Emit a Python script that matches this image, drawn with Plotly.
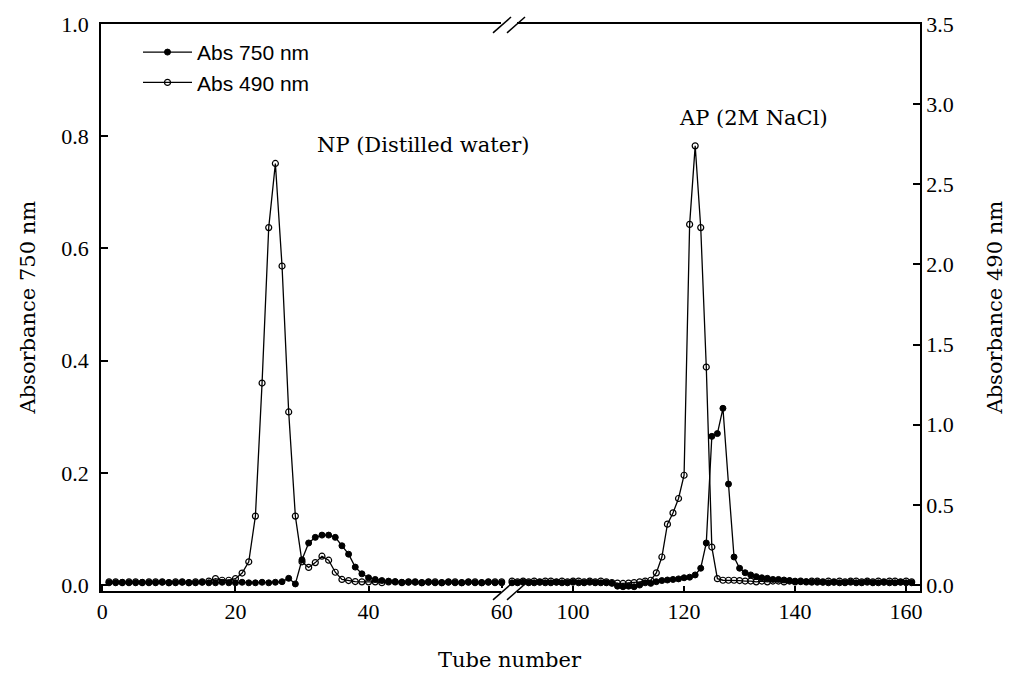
import plotly.graph_objects as go

# ---------------- data ----------------
tubes_left = list(range(1, 61))
abs750_left = [0.004, 0.004, 0.005, 0.004, 0.004, 0.005, 0.004, 0.004, 0.005, 0.004,
               0.004, 0.005, 0.004, 0.004, 0.005, 0.004, 0.004, 0.005, 0.004, 0.004,
               0.005, 0.004, 0.004, 0.005, 0.004, 0.005, 0.006, 0.012, 0.002, 0.045,
               0.075, 0.085, 0.089, 0.089, 0.085, 0.070, 0.055, 0.032, 0.020, 0.013,
               0.010, 0.008, 0.007, 0.006, 0.005, 0.005, 0.005, 0.004, 0.005, 0.004,
               0.004, 0.005, 0.004, 0.004, 0.005, 0.004, 0.004, 0.005, 0.004, 0.004]
abs490_left = [0.020, 0.020, 0.015, 0.020, 0.020, 0.015, 0.020, 0.020, 0.020, 0.015,
               0.020, 0.020, 0.015, 0.020, 0.020, 0.025, 0.040, 0.030, 0.030, 0.040,
               0.075, 0.145, 0.430, 1.260, 2.230, 2.630, 1.990, 1.080, 0.430, 0.145,
               0.110, 0.140, 0.180, 0.155, 0.080, 0.035, 0.028, 0.022, 0.020, 0.020,
               0.020, 0.015, 0.020, 0.020, 0.015, 0.020, 0.020, 0.015, 0.020, 0.020,
               0.015, 0.020, 0.020, 0.015, 0.020, 0.020, 0.015, 0.020, 0.020, 0.020]

tubes_right = list(range(89, 162))
abs750_right = [0.004, 0.004, 0.005, 0.004, 0.004, 0.005, 0.004, 0.004, 0.005, 0.004,   # 89-98
                0.004, 0.005, 0.004, 0.004, 0.005, 0.004, 0.004, 0.004, 0.003, -0.002,   # 99-108
                -0.003, -0.002, -0.003, 0.000, 0.004, 0.003, 0.006, 0.008, 0.009, 0.010, # 109-118
                0.011, 0.013, 0.014, 0.018, 0.030, 0.075, 0.265, 0.270, 0.315, 0.180,    # 119-128
                0.050, 0.030, 0.022, 0.018, 0.015, 0.013, 0.012, 0.010, 0.010, 0.009,    # 129-138
                0.008, 0.007, 0.006, 0.006, 0.005, 0.005, 0.005, 0.004, 0.005, 0.004,    # 139-148
                0.004, 0.005, 0.004, 0.004, 0.005, 0.004, 0.004, 0.005, 0.004, 0.004,    # 149-158
                0.005, 0.004, 0.004]                                                     # 159-161
abs490_right = [0.025, 0.020, 0.025, 0.020, 0.025, 0.020, 0.025, 0.025, 0.020, 0.025,   # 89-98
                0.020, 0.025, 0.025, 0.020, 0.025, 0.020, 0.025, 0.020, 0.015, 0.012,   # 99-108
                0.010, 0.012, 0.015, 0.020, 0.025, 0.030, 0.076, 0.175, 0.380, 0.450,   # 109-118
                0.540, 0.685, 2.250, 2.740, 2.230, 1.360, 0.237, 0.040, 0.030, 0.030,   # 119-128
                0.030, 0.028, 0.025, 0.025, 0.020, 0.025, 0.020, 0.025, 0.025, 0.020,   # 129-138
                0.025, 0.020, 0.025, 0.020, 0.025, 0.025, 0.020, 0.025, 0.020, 0.025,   # 139-148
                0.020, 0.025, 0.025, 0.020, 0.025, 0.020, 0.025, 0.020, 0.025, 0.025,   # 149-158
                0.020, 0.025, 0.020]                                                    # 159-161

x_ticks_left = [0, 20, 40, 60]
x_ticks_right = [100, 120, 140, 160]
y_left_ticks = [0.0, 0.2, 0.4, 0.6, 0.8, 1.0]
y_right_ticks = [0.0, 0.5, 1.0, 1.5, 2.0, 2.5, 3.0, 3.5]

# ---------------- geometry helpers (paper coordinates) ----------------
W, H = 1012, 675
L, R, T, B = 101, 920, 19, 591
def px(x):
    return (x - L) / (R - L)
def py(y):
    return (B - y) / (B - T)
BREAK = px(507)

SERIF = "DejaVu Serif"
TICKFONT = dict(family="Liberation Serif", size=22, color="black")

filled = dict(symbol="circle", size=6, color="black", line=dict(color="black", width=1))
opened = dict(symbol="circle-open", size=6, color="black", line=dict(color="black", width=1.2))
line = dict(color="black", width=1.3)

fig = go.Figure()
fig.add_trace(go.Scatter(x=tubes_left, y=abs750_left, xaxis="x", yaxis="y", mode="lines+markers",
                         name="Abs 750 nm", line=line, marker=filled, showlegend=True))
fig.add_trace(go.Scatter(x=tubes_left, y=abs490_left, xaxis="x", yaxis="y2", mode="lines+markers",
                         name="Abs 490 nm", line=line, marker=opened, showlegend=True))
fig.add_trace(go.Scatter(x=tubes_right, y=abs750_right, xaxis="x2", yaxis="y", mode="lines+markers",
                         name="Abs 750 nm", line=line, marker=filled, showlegend=False))
fig.add_trace(go.Scatter(x=tubes_right, y=abs490_right, xaxis="x2", yaxis="y2", mode="lines+markers",
                         name="Abs 490 nm", line=line, marker=opened, showlegend=False))

axis_common = dict(showgrid=False, zeroline=False, showline=True, linecolor="black", linewidth=1.5,
                   ticks="inside", tickcolor="black", tickwidth=1.5, tickfont=TICKFONT)

fig.update_layout(
    width=W, height=H,
    margin=dict(l=L, r=W - R, t=T, b=H - B, pad=0),
    paper_bgcolor="white", plot_bgcolor="white",
    xaxis=dict(domain=[0, BREAK], range=[-0.2, 60.8], tickvals=x_ticks_left, ticklen=5,
               mirror=True, anchor="y", **axis_common),
    xaxis2=dict(domain=[BREAK, 1], range=[88.1, 162.5], tickvals=x_ticks_right, ticklen=5,
                mirror=True, anchor="y", **axis_common),
    yaxis=dict(domain=[0, 1], range=[-0.0106, 1.0], tickvals=y_left_ticks, tickformat=".1f",
               ticklen=7, anchor="x", side="left", ticklabelstandoff=6, **axis_common),
    yaxis2=dict(domain=[0, 1], range=[-0.0371, 3.5], tickvals=y_right_ticks, tickformat=".1f",
                ticklen=7, anchor="x2", side="right", overlaying="y", **axis_common),
    legend=dict(x=px(138), y=py(27), xanchor="left", yanchor="top", bgcolor="rgba(0,0,0,0)",
                font=dict(family="Liberation Sans", size=21, color="black"), itemwidth=49,
                borderwidth=0),
    showlegend=True,
)

annotations = [
    dict(text="Absorbance 750 nm", x=px(27), y=py(305), textangle=-90),
    dict(text="Absorbance 490 nm", x=px(994), y=py(305), textangle=-90),
    dict(text="Tube number", x=px(510), y=py(661)),
    dict(text="NP (Distilled water)", x=px(423), y=py(141)),
    dict(text="AP (2M NaCl)", x=px(753), y=py(114)),
]
for a in annotations:
    fig.add_annotation(xref="paper", yref="paper", xanchor="center", yanchor="middle",
                       showarrow=False, font=dict(family=SERIF, size=21, color="black"), **a)

# axis-break marks (top and bottom)
shapes = []
for ytop in (T, B):
    shapes.append(dict(type="rect", xref="paper", yref="paper", x0=px(501), x1=px(517),
                       y0=py(ytop + 3), y1=py(ytop - 3), fillcolor="white", line=dict(width=0),
                       layer="above"))
    for dx in (0, 14):
        shapes.append(dict(type="line", xref="paper", yref="paper",
                           x0=px(493 + dx), y0=py(ytop + 9), x1=px(511 + dx), y1=py(ytop - 7),
                           line=dict(color="black", width=1.5), layer="above"))
fig.update_layout(shapes=shapes)

fig.write_html("out.html")
